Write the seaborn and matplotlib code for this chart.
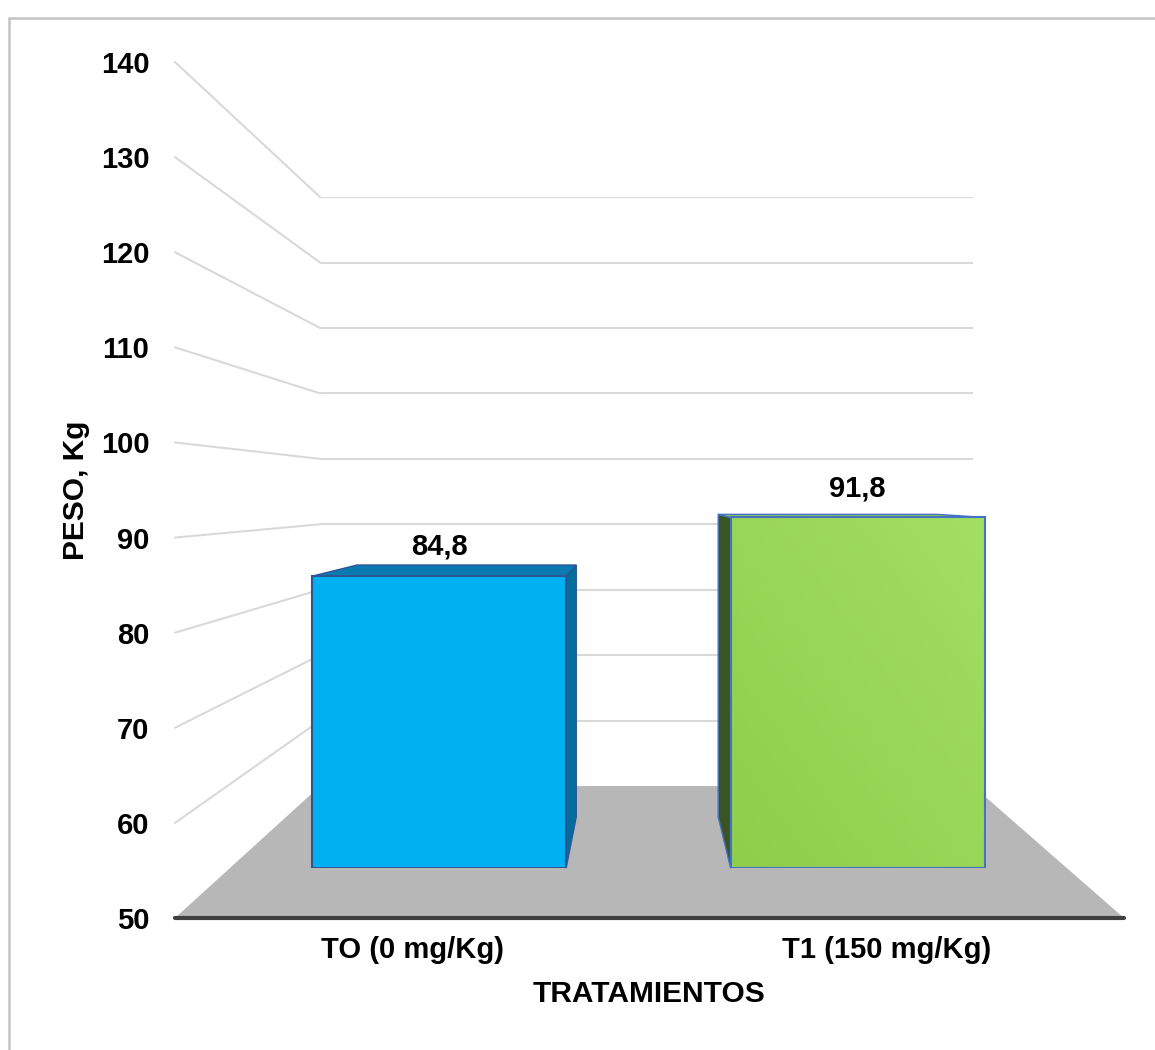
import numpy as np
import pandas as pd
import matplotlib
matplotlib.use("Agg")
import matplotlib.pyplot as plt
import seaborn as sns
from matplotlib.patches import Polygon
from matplotlib.lines import Line2D
from matplotlib.colors import LinearSegmentedColormap

# ---- data -------------------------------------------------------------
tratamientos = ["TO (0 mg/Kg)", "T1 (150 mg/Kg)"]
peso = [84.8, 91.8]
etiquetas = ["84,8", "91,8"]
y_ticks = [50, 60, 70, 80, 90, 100, 110, 120, 130, 140]

# ---- styling ----------------------------------------------------------
color_frente = ["#00B0F0", "#92D050"]
color_lateral = ["#006E9C", "#3A5424"]
color_tapa = ["#0A7BB2", "#8CC84E"]
color_borde = ["#2F5597", "#4472C4"]
color_grid = "#D9D9D9"
color_piso = "#B7B7B7"
FS_TICK, FS_TITLE = 21, 21.5

sns.set_theme(style="white")
plt.rcParams["font.family"] = ["Liberation Sans", "DejaVu Sans"]
plt.rcParams["font.weight"] = "bold"

W, H = 1155, 1050
fig = plt.figure(figsize=(W / 100, H / 100), dpi=100)
fig.patch.set_facecolor("white")

# simple one-point perspective: vanishing point and the front plane box
VP = (640.0, 495.0)                     # pixels, origin top-left
FRONT = (175.0, 62.0, 1124.0, 918.0)    # left, top, right, bottom
WALL_DEPTH, BAR_FRONT, BAR_BACK = 0.688, 0.882, 0.761


def plane_rect(s):
    l = VP[0] + s * (FRONT[0] - VP[0])
    t = VP[1] + s * (FRONT[1] - VP[1])
    r = VP[0] + s * (FRONT[2] - VP[0])
    b = VP[1] + s * (FRONT[3] - VP[1])
    return [l / W, 1 - b / H, (r - l) / W, (b - t) / H]


def setup(ax):
    ax.set_xlim(-0.5, 1.5)
    ax.set_ylim(y_ticks[0], y_ticks[-1])
    ax.patch.set_visible(False)
    for sp in ax.spines.values():
        sp.set_visible(False)


to_fig = fig.transFigure.inverted()


def fig_pt(ax, x, y):
    return to_fig.transform(ax.transData.transform((x, y)))


# ---- back wall with horizontal gridlines ------------------------------
axw = fig.add_axes(plane_rect(WALL_DEPTH))
setup(axw)
axw.set_xticks([])
axw.set_yticks(y_ticks[1:])
axw.tick_params(left=False, labelleft=False)
axw.grid(axis="y", color=color_grid, lw=1.5)
axw.grid(axis="x", visible=False)

# ---- front plane: floor, side wall lines, axis labels -----------------
ax = fig.add_axes(plane_rect(1.0))
setup(ax)

lo, hi = y_ticks[0], y_ticks[-1]
floor = [fig_pt(ax, -0.5, lo), fig_pt(ax, 1.5, lo),
         fig_pt(axw, 1.5, lo), fig_pt(axw, -0.5, lo)]
ax.add_patch(Polygon(floor, closed=True, transform=fig.transFigure,
                     facecolor=color_piso, edgecolor="none", clip_on=False, zorder=1))

for v in y_ticks[1:]:
    p0, p1 = fig_pt(ax, -0.5, v), fig_pt(axw, -0.5, v)
    ax.add_line(Line2D([p0[0], p1[0]], [p0[1], p1[1]], transform=fig.transFigure,
                       color=color_grid, lw=1.5, clip_on=False, zorder=0.5))

ax.axhline(lo, color="#404040", lw=3, clip_on=False, zorder=3)

ax.set_yticks(y_ticks)
ax.set_yticklabels([str(v) for v in y_ticks], fontsize=FS_TICK, fontweight="bold", color="black")
ax.set_xticks(range(len(tratamientos)))
ax.set_xticklabels(tratamientos, fontsize=FS_TICK, fontweight="bold", color="black")
ax.tick_params(axis="y", length=0, pad=18.5)
ax.tick_params(axis="x", length=0, pad=13)
ax.grid(False)

fig.text(76 / W, 1 - 490 / H, "PESO, Kg", rotation=90, ha="center", va="center",
         fontsize=FS_TITLE, fontweight="bold", color="black")
fig.text(649 / W, 1 - 994 / H, "TRATAMIENTOS", ha="center", va="center",
         fontsize=FS_TITLE, fontweight="bold", color="black")

# ---- bars --------------------------------------------------------------
axb = fig.add_axes(plane_rect(BAR_FRONT))
df = pd.DataFrame({"tratamiento": tratamientos, "peso": peso})
sns.barplot(data=df, x="tratamiento", y="peso", hue="tratamiento",
            palette=color_frente, saturation=1, width=0.607, legend=False, ax=axb)
setup(axb)
axb.set_xticks([])
axb.set_yticks([])
axb.set_xlabel("")
axb.set_ylabel("")
axb.grid(False)

vp_disp = fig.transFigure.transform((VP[0] / W, 1 - VP[1] / H))
k = BAR_BACK / BAR_FRONT


def back(p):
    return vp_disp + k * (np.asarray(p) - vp_disp)


verde = LinearSegmentedColormap.from_list("verde", ["#8ECE4B", "#A3DF63"])

for i, patch in enumerate(axb.patches[:len(peso)]):
    x0 = patch.get_x()
    w = patch.get_width()
    top = patch.get_y() + patch.get_height()
    # baseline of the value axis
    patch.set_y(lo)
    patch.set_height(top - lo)
    patch.set_edgecolor(color_borde[i])
    patch.set_linewidth(1.5)
    patch.set_zorder(2)

    td = axb.transData
    fl, fr = td.transform((x0, lo)), td.transform((x0 + w, lo))
    tl, tr = td.transform((x0, top)), td.transform((x0 + w, top))

    faces = []
    if tr[0] < vp_disp[0]:
        faces.append(([fr, tr, back(tr), back(fr)], color_lateral[i]))
    elif tl[0] > vp_disp[0]:
        faces.append(([fl, tl, back(tl), back(fl)], color_lateral[i]))
    if tl[1] < vp_disp[1]:
        faces.append(([tl, tr, back(tr), back(tl)], color_tapa[i]))
    for pts, c in faces:
        pts_fig = to_fig.transform(np.array(pts))
        axb.add_patch(Polygon(pts_fig, closed=True, transform=fig.transFigure,
                              facecolor=c, edgecolor=color_borde[i], lw=1.0,
                              clip_on=False, zorder=1))

    if i == 1:
        g = np.add.outer(np.linspace(0, 1, 60), np.linspace(0, 1, 60)) / 2
        im = axb.imshow(g, extent=[x0, x0 + w, lo, top], origin="lower", aspect="auto",
                        cmap=verde, zorder=1.5)
        im.set_clip_path(patch)
        patch.set_facecolor("none")

    axb.annotate(etiquetas[i], (x0 + w / 2, top), xytext=(0, 21),
                 textcoords="offset points", ha="center", va="center",
                 fontsize=FS_TICK, fontweight="bold", color="black", annotation_clip=False)

setup(axb)

# ---- outer frame --------------------------------------------------------
fig.add_artist(Line2D([9 / W, 9 / W], [0, 1 - 18 / H], transform=fig.transFigure,
                      color="#C4C4C4", lw=1.8))
fig.add_artist(Line2D([9 / W, 1], [1 - 18 / H, 1 - 18 / H], transform=fig.transFigure,
                      color="#C4C4C4", lw=1.8))

fig.savefig("out.png", dpi=100, facecolor="white")
